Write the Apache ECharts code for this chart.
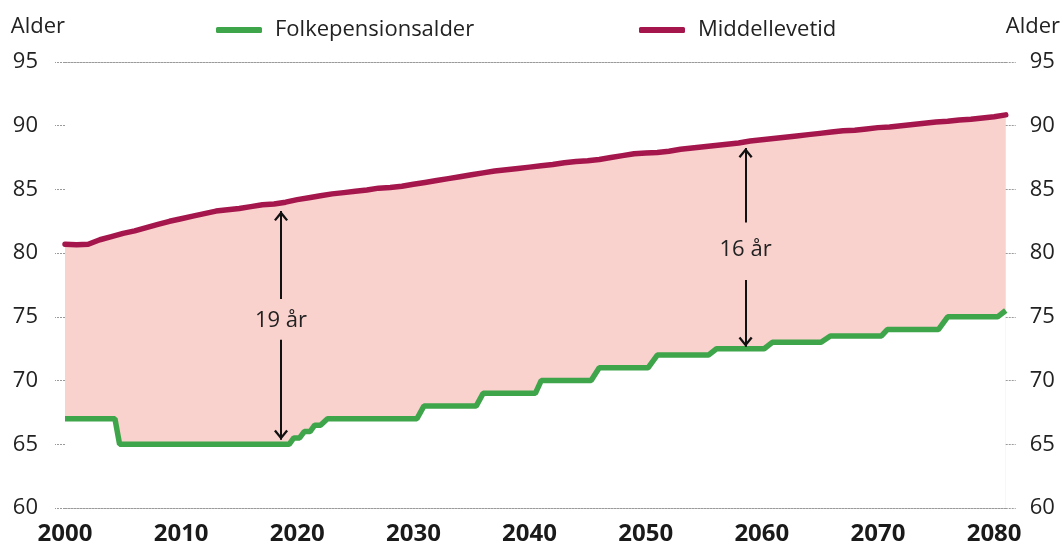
<!DOCTYPE html>
<html>
<head>
<meta charset="utf-8">
<script src="https://cdn.jsdelivr.net/npm/echarts@6/dist/echarts.min.js"></script>
<style>
html,body{margin:0;padding:0;background:#fff;}
#c{width:1063px;height:550px;}
</style>
</head>
<body>
<div id="c"></div>
<script>
// ---- data ----
const yTicks = [60, 65, 70, 75, 80, 85, 90, 95];
const xTickLabels = [2000, 2010, 2020, 2030, 2040, 2050, 2060, 2070, 2080];

// Middellevetid (yearly, 2000-2081)
const lifeYears = [];
for (let y = 2000; y <= 2081; y++) lifeYears.push(y);
const lifeValues = [
  80.7, 80.65, 80.7, 81.05, 81.3, 81.55, 81.75, 82.0, 82.25, 82.5,
  82.7, 82.9, 83.1, 83.3, 83.4, 83.5, 83.65, 83.8, 83.85, 84.0,
  84.2, 84.35, 84.5, 84.65, 84.75, 84.85, 84.95, 85.1, 85.15, 85.25,
  85.4, 85.55, 85.7, 85.85, 86.0, 86.15, 86.3, 86.45, 86.55, 86.65,
  86.75, 86.85, 86.95, 87.1, 87.2, 87.25, 87.35, 87.5, 87.65, 87.8,
  87.85, 87.9, 88.0, 88.15, 88.25, 88.35, 88.45, 88.55, 88.65, 88.8,
  88.9, 89.0, 89.1, 89.2, 89.3, 89.4, 89.5, 89.6, 89.65, 89.75,
  89.85, 89.9, 90.0, 90.1, 90.2, 90.3, 90.35, 90.45, 90.5, 90.6,
  90.7, 90.85
];

// Folkepensionsalder (step points)
const pensionYears = [2000, 2004.3, 2004.7, 2019.3, 2019.7, 2020.2, 2020.6, 2021.1, 2021.5, 2022.0, 2022.6,
  2030.3, 2030.9, 2035.4, 2036.0, 2040.5, 2041.0, 2045.3, 2046.0, 2050.2, 2051.0, 2055.4, 2056.1,
  2060.2, 2060.9, 2065.1, 2065.9, 2070.3, 2070.8, 2075.2, 2076.0, 2080.3, 2081];
const pensionValues = [67, 67, 65, 65, 65.5, 65.5, 66, 66, 66.5, 66.5, 67,
  67, 68, 68, 69, 69, 70, 70, 71, 71, 72, 72, 72.5,
  72.5, 73, 73, 73.5, 73.5, 74, 74, 75, 75, 75.5];

// annotations
const gapYears = [2018.6, 2058.6];
const gapLabelY = [74.7, 80.25];
const gapUpper = [[76.4, 83.3], [82.4, 88.25]];
const gapLower = [[73.2, 65.35], [77.9, 72.65]];
const gapTexts = ['19 år', '16 år'];

const seriesNames = ['Folkepensionsalder', 'Middellevetid'];
const axisName = 'Alder';

// ---- build ----
const lifeData = lifeYears.map((y, i) => [y, lifeValues[i]]);
const pensionData = pensionYears.map((y, i) => [y, pensionValues[i]]);

const FONT = 'Open Sans';
const TXT = '#222222';
const GREEN = '#3fa54b';
const RED = '#a5164c';
const PINK = '#f9d1cd';

const chevron = 'path://M7,0 L7.01,0 L7,0.01 Z M0,18.6 L7,10 L14,18.6 L12.2,20 L7,13.6 L1.8,20 Z';

const arrowData = [];
gapYears.forEach((x, i) => {
  arrowData.push([{ coord: [x, gapUpper[i][0]] }, { coord: [x, gapUpper[i][1]] }]);
  arrowData.push([{ coord: [x, gapLower[i][0]] }, { coord: [x, gapLower[i][1]] }]);
});
const labelData = gapYears.map((x, i) => [x, gapLabelY[i], gapTexts[i]]);

const yAxisCommon = {
  type: 'value', min: yTicks[0], max: yTicks[yTicks.length - 1], interval: 5,
  axisLine: { show: false },
  axisTick: { show: true, length: 10, lineStyle: { color: '#9a9a9a', width: 1, type: [2, 1] } },
  splitLine: { show: false },
  name: axisName,
  nameLocation: 'end',
  nameGap: 35,
  z: 10
};

const chart = echarts.init(document.getElementById('c'));
chart.setOption({
  animation: false,
  textStyle: { fontFamily: FONT },
  grid: { left: 65, right: 54, top: 62, bottom: 42 },
  legend: [
    {
      data: [seriesNames[0]], left: 211, top: 14, icon: 'roundRect', itemWidth: 46, itemHeight: 6,
      textStyle: { fontFamily: FONT, fontSize: 22, color: TXT, padding: [0, 0, 0, 8] }, selectedMode: false
    },
    {
      data: [seriesNames[1]], left: 634, top: 14, icon: 'roundRect', itemWidth: 46, itemHeight: 6,
      textStyle: { fontFamily: FONT, fontSize: 22, color: TXT, padding: [0, 0, 0, 8] }, selectedMode: false
    }
  ],
  xAxis: [
    {
      type: 'value', min: 2000, max: 2081, interval: 10, position: 'bottom', z: 10,
      axisLine: { show: true, onZero: false, lineStyle: { color: '#9a9a9a', width: 1, type: [2, 1] } },
      axisTick: { show: false },
      splitLine: { show: false },
      axisLabel: {
        margin: 14, fontFamily: FONT, fontSize: 24, fontWeight: 'bold', color: '#1a1a1a',
        showMaxLabel: false,
        formatter: v => (xTickLabels.indexOf(v) >= 0 ? String(v) : '')
      }
    },
    {
      type: 'value', min: 2000, max: 2081, interval: 10, position: 'top', z: 10,
      axisLine: { show: true, onZero: false, lineStyle: { color: '#9a9a9a', width: 1, type: [2, 1] } },
      axisTick: { show: false },
      splitLine: { show: false },
      axisLabel: { show: false }
    }
  ],
  yAxis: [
    Object.assign({}, yAxisCommon, {
      position: 'left',
      axisLabel: { margin: 27, fontFamily: FONT, fontSize: 22, color: TXT },
      nameTextStyle: { fontFamily: FONT, fontSize: 22, color: TXT, align: 'right', verticalAlign: 'middle' }
    }),
    Object.assign({}, yAxisCommon, {
      position: 'right',
      axisLabel: { margin: 24, fontFamily: FONT, fontSize: 22, color: TXT },
      nameTextStyle: { fontFamily: FONT, fontSize: 22, color: TXT, align: 'left', verticalAlign: 'middle' }
    })
  ],
  series: [
    {
      name: 'fill', type: 'line', data: lifeData, showSymbol: false, silent: true, z: 1,
      lineStyle: { width: 0 },
      areaStyle: { color: PINK, opacity: 1, origin: 'start' }
    },
    {
      name: seriesNames[0], type: 'line', data: pensionData, showSymbol: false, silent: true, z: 2,
      color: GREEN,
      lineStyle: { color: GREEN, width: 5.5 },
      areaStyle: { color: '#ffffff', opacity: 1, origin: 'start' }
    },
    {
      name: seriesNames[1], type: 'line', data: lifeData, showSymbol: false, silent: true, z: 3,
      color: RED,
      lineStyle: { color: RED, width: 5.5, cap: 'round' },
      markLine: {
        silent: true,
        symbol: ['none', chevron],
        symbolSize: [14, 20],
        label: { show: false },
        itemStyle: { color: '#111' },
        lineStyle: { color: '#111', width: 2, type: 'solid' },
        emphasis: { disabled: true },
        data: arrowData
      }
    },
    {
      name: 'labels', type: 'scatter', data: labelData, symbolSize: 1, silent: true, z: 4,
      itemStyle: { opacity: 0 },
      label: {
        show: true, position: 'inside', formatter: p => p.value[2],
        fontFamily: FONT, fontSize: 22, color: TXT, opacity: 1,
        textBorderWidth: 0, textBorderColor: 'transparent'
      }
    }
  ]
});
</script>
</body>
</html>
